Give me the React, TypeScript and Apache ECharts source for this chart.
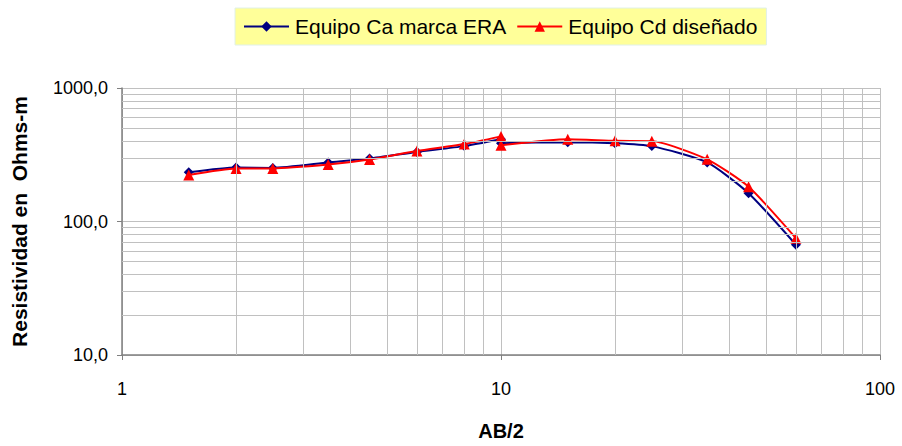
import React, { useEffect, useRef } from "react";
import * as echarts from "echarts";

const abHalf = [1.5, 2, 2.5, 3.5, 4.5, 6, 8, 10, 10, 15, 20, 25, 35, 45, 60];
const eraValues = [234, 254, 252, 277, 296, 332, 367, 413, 386, 393, 386, 367, 277, 163, 67];
const cdValues = [223, 250, 250, 267, 291, 337, 380, 434, 373, 413, 402, 400, 292, 182, 75];
const xMinorGrid = [2, 3, 4, 5, 6, 7, 8, 9, 20, 30, 40, 50, 60, 70, 80, 90];
const yMinorGrid = [20, 30, 40, 50, 60, 70, 80, 90, 200, 300, 400, 500, 600, 700, 800, 900];

const FONT = "'Liberation Sans', Arial, sans-serif";

export default function App() {
  const ref = useRef<HTMLDivElement>(null);
  useEffect(() => {
    if (!ref.current) return;
    const chart = echarts.init(ref.current, null, { renderer: "svg" });
    const gridLine = { color: "#c0c0c0", width: 1, type: "solid" as const };
    chart.setOption({
      animation: false,
      backgroundColor: "#ffffff",
      textStyle: { fontFamily: FONT },
      legend: {
        top: 8,
        left: 235,
        itemGap: 10,
        itemWidth: 45,
        itemHeight: 13,
        padding: [8, 9, 8, 8],
        backgroundColor: "#FFFF99",
        borderColor: "#e0f0e8",
        borderWidth: 1,
        textStyle: { fontFamily: FONT, fontSize: 21, color: "#000", padding: [0, 0, 0, 1] },
        data: ["Equipo Ca marca ERA", "Equipo Cd diseñado"],
      },
      grid: { left: 122, right: 22, top: 88, bottom: 82, containLabel: false },
      xAxis: {
        type: "log",
        logBase: 10,
        min: 1,
        max: 100,
        name: "AB/2",
        nameLocation: "middle",
        nameGap: 66,
        nameTextStyle: { fontFamily: FONT, fontSize: 20, fontWeight: "bold", color: "#000" },
        axisLine: { show: true, lineStyle: { color: "#808080", width: 1.5 } },
        axisTick: { show: true, length: 5, lineStyle: { color: "#808080" } },
        axisLabel: { fontFamily: FONT, fontSize: 18, color: "#000", margin: 25 },
        splitLine: { show: true, lineStyle: gridLine },
        minorTick: { show: false },
        minorSplitLine: { show: false },
      },
      yAxis: {
        type: "log",
        logBase: 10,
        min: 10,
        max: 1000,
        name: "Resistividad en  Ohms-m",
        nameLocation: "middle",
        nameGap: 92,
        nameTextStyle: { fontFamily: FONT, fontSize: 21, fontWeight: "bold", color: "#000" },
        axisLine: { show: true, lineStyle: { color: "#808080", width: 1.5 } },
        axisTick: { show: true, length: 5, lineStyle: { color: "#808080" } },
        axisLabel: {
          fontFamily: FONT,
          fontSize: 18,
          color: "#000",
          margin: 14,
          formatter: (v: number) => v.toFixed(1).replace(".", ","),
        },
        splitLine: { show: true, lineStyle: gridLine },
      },
      series: [
        {
          name: "gridlines",
          type: "line",
          data: [],
          silent: true,
          markLine: {
            silent: true,
            symbol: ["none", "none"],
            label: { show: false },
            lineStyle: gridLine,
            emphasis: { disabled: true },
            data: [
              ...xMinorGrid.map((v) => ({ xAxis: v })),
              ...yMinorGrid.map((v) => ({ yAxis: v })),
            ],
          },
        },
        {
          name: "Equipo Ca marca ERA",
          type: "line",
          smooth: 0.2,
          data: abHalf.map((x, i) => [x, eraValues[i]]),
          symbol: "diamond",
          symbolSize: 10,
          itemStyle: { color: "#000080" },
          lineStyle: { color: "#000080", width: 2 },
          z: 3,
        },
        {
          name: "Equipo Cd diseñado",
          type: "line",
          smooth: 0.2,
          data: abHalf.map((x, i) => [x, cdValues[i]]),
          symbol: "triangle",
          symbolSize: 11,
          itemStyle: { color: "#ff0000" },
          lineStyle: { color: "#ff0000", width: 2 },
          z: 4,
        },
      ],
    });
    return () => chart.dispose();
  }, []);
  return <div ref={ref} style={{ width: 902, height: 446, position: "absolute", left: 0, top: 0 }} />;
}
